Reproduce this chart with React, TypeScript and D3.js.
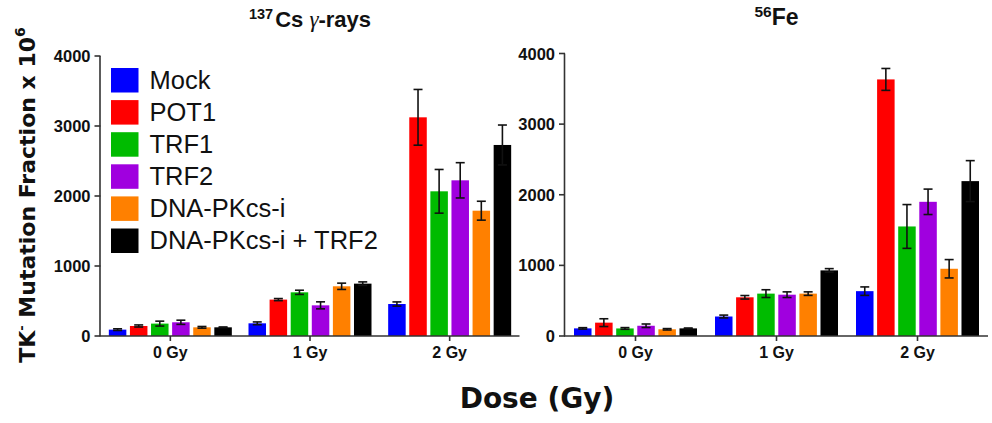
import React from "react";
import * as d3 from "d3";

// groups and series
const doses = ["0 Gy", "1 Gy", "2 Gy"];
const treatments = ["Mock", "POT1", "TRF1", "TRF2", "DNA-PKcs-i", "DNA-PKcs-i + TRF2"];
const barColors = ["#0000FF", "#FF0000", "#00BB00", "#A000DF", "#FF8000", "#000000"];
const yTicks = [0, 1000, 2000, 3000, 4000];

// 137Cs gamma-rays, one row per dose, one value per treatment
const csMeans = [
  [91, 143, 177, 196, 124, 124],
  [181, 520, 624, 438, 710, 748],
  [457, 3124, 2067, 2224, 1790, 2729],
];
const csErrors = [
  [12, 15, 35, 30, 12, 5],
  [20, 15, 30, 50, 45, 25],
  [30, 398, 312, 252, 135, 285],
];

// 56Fe
const feMeans = [
  [108, 189, 107, 145, 95, 108],
  [276, 548, 600, 585, 600, 929],
  [635, 3633, 1551, 1900, 952, 2193],
];
const feErrors = [
  [10, 55, 12, 25, 10, 5],
  [20, 25, 55, 40, 25, 25],
  [60, 155, 310, 180, 130, 290],
];

const tickFont = "Liberation Sans, Arial, sans-serif";
const labelFont = "DejaVu Sans, Verdana, sans-serif";
const axisColor = "#333";

interface PanelProps {
  means: number[][];
  errors: number[][];
  left: number;
  right: number;
  top: number;
  bottom: number;
  title: React.ReactNode;
  titleY: number;
}

const Panel: React.FC<PanelProps> = ({ means, errors, left, right, top, bottom, title, titleY }) => {
  const x = d3.scaleBand().domain(doses).range([left, right]).padding(0);
  const groupWidth = 123;
  const inner = d3
    .scaleBand()
    .domain(treatments)
    .range([x.bandwidth() / 2 - groupWidth / 2, x.bandwidth() / 2 + groupWidth / 2])
    .paddingInner(0.17)
    .paddingOuter(0);
  const y = d3.scaleLinear().domain([0, 4000]).range([bottom, top]);
  const bw = inner.bandwidth();
  const cap = 4.5;

  return (
    <g>
      <text
        x={(left + right) / 2}
        y={titleY}
        textAnchor="middle"
        fontFamily={tickFont}
        fontWeight="bold"
        fill="#111"
      >
        {title}
      </text>

      {/* bars */}
      {doses.map((dose, i) => (
        <g key={dose} transform={`translate(${x(dose)},0)`}>
          {treatments.map((t, j) => (
            <rect
              key={t}
              x={inner(t)}
              y={y(means[i][j])}
              width={bw}
              height={y(0) - y(means[i][j])}
              fill={barColors[j]}
            />
          ))}
          {treatments.map((t, j) => {
            const cx = (inner(t) || 0) + bw / 2;
            const hi = y(means[i][j] + errors[i][j]);
            const lo = y(Math.max(0, means[i][j] - errors[i][j]));
            return (
              <g key={t} stroke="#111" strokeWidth={1.6}>
                <line x1={cx} x2={cx} y1={hi} y2={lo} />
                <line x1={cx - cap} x2={cx + cap} y1={hi} y2={hi} />
                <line x1={cx - cap} x2={cx + cap} y1={lo} y2={lo} />
              </g>
            );
          })}
        </g>
      ))}

      {/* y axis */}
      <line x1={left - 0.5} x2={left - 0.5} y1={top} y2={bottom} stroke={axisColor} strokeWidth={1.6} />
      {yTicks.map((v) => (
        <g key={v}>
          <line x1={left - 6} x2={left} y1={y(v)} y2={y(v)} stroke={axisColor} strokeWidth={1.6} />
          <text
            x={left - 10}
            y={y(v) + 6}
            textAnchor="end"
            fontFamily={tickFont}
            fontWeight="bold"
            fontSize={16.5}
            fill="#111"
          >
            {v}
          </text>
        </g>
      ))}

      {/* x axis */}
      <line x1={left - 1} x2={right} y1={bottom} y2={bottom} stroke={axisColor} strokeWidth={1.6} />
      {doses.map((dose) => {
        const cx = (x(dose) || 0) + x.bandwidth() / 2;
        return (
          <g key={dose}>
            <line x1={cx} x2={cx} y1={bottom} y2={bottom + 5} stroke={axisColor} strokeWidth={1.6} />
            <text
              x={cx}
              y={bottom + 22}
              textAnchor="middle"
              fontFamily={tickFont}
              fontWeight="bold"
              fontSize={16}
              fill="#111"
            >
              {dose}
            </text>
          </g>
        );
      })}
    </g>
  );
};

const App: React.FC = () => {
  const legendX = 111;
  const legendY = 68;
  const legendStep = 32.1;

  return (
    <svg
      width={992}
      height={423}
      style={{ position: "absolute", left: 0, top: 0, background: "#fff" }}
    >
      <rect width={992} height={423} fill="#fff" />

      <Panel
        means={csMeans}
        errors={csErrors}
        left={100.5}
        right={519.5}
        top={56}
        bottom={336}
        titleY={27}
        title={
          <>
            <tspan fontSize={14.5} dy={-8}>137</tspan>
            <tspan fontSize={22} dy={8} dx={2}>Cs </tspan>
            <tspan fontSize={23} fontStyle="italic" fontWeight="normal" fontFamily="Liberation Serif, serif">γ</tspan>
            <tspan fontSize={22}>-rays</tspan>
          </>
        }
      />

      <Panel
        means={feMeans}
        errors={feErrors}
        left={565}
        right={988}
        top={53.5}
        bottom={336}
        titleY={25}
        title={
          <>
            <tspan fontSize={15.5} dy={-8}>56</tspan>
            <tspan fontSize={23} dy={8}>Fe</tspan>
          </>
        }
      />

      {/* legend */}
      {treatments.map((t, j) => (
        <g key={t} transform={`translate(${legendX},${legendY + j * legendStep})`}>
          <rect width={27.5} height={24.5} fill={barColors[j]} />
          <text x={38.5} y={20.5} fontFamily={tickFont} fontSize={25.5} fill="#111">
            {t}
          </text>
        </g>
      ))}

      {/* axis titles */}
      <text
        transform="translate(35,195) rotate(-90)"
        textAnchor="middle"
        fontFamily={labelFont}
        fontWeight="bold"
        fontSize={22}
        fill="#111"
      >
        TK
        <tspan fontSize={13} dy={-9}>-</tspan>
        <tspan dy={9}> Mutation Fraction x 10</tspan>
        <tspan fontSize={14} dy={-10}>6</tspan>
      </text>

      <text
        x={537}
        y={408}
        textAnchor="middle"
        fontFamily={labelFont}
        fontWeight="bold"
        fontSize={28}
        fill="#111"
      >
        Dose (Gy)
      </text>
    </svg>
  );
};

export default App;
